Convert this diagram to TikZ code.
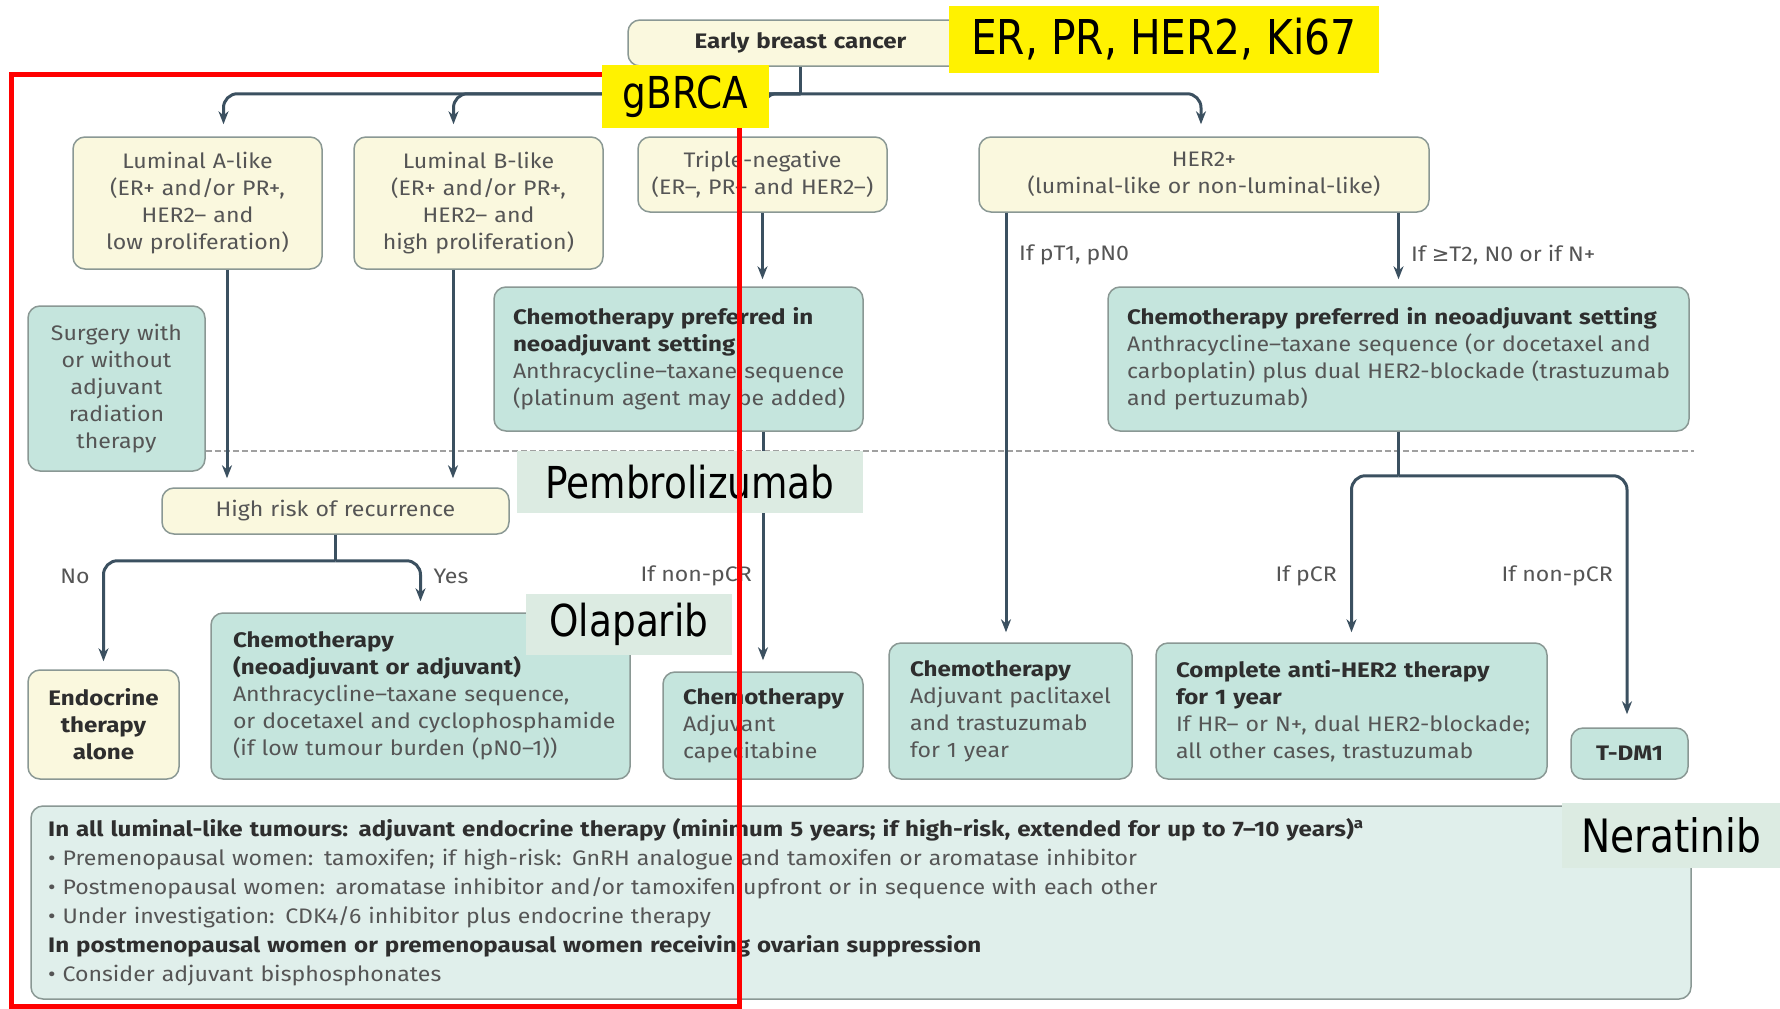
\documentclass[tikz,border=0pt]{standalone}
\usepackage{fontspec}
\setmainfont{Fira Sans}[FakeStretch=1.1, BoldFeatures={FakeStretch=1.15}]
\newfontfamily\lblfont{DejaVu Sans}[FakeStretch=0.85]
\newfontfamily\symfont{DejaVu Sans}
\usetikzlibrary{arrows.meta}
\definecolor{creamfill}{HTML}{FAF8DE}
\definecolor{tealfill}{HTML}{C5E5DD}
\definecolor{botfill}{HTML}{E0EFEB}
\definecolor{boxline}{HTML}{8A9894}
\definecolor{arrowc}{HTML}{3B5060}
\definecolor{textgray}{HTML}{555555}
\definecolor{titlec}{HTML}{2E2E2E}
\definecolor{ovl}{HTML}{DCEBE2}
\definecolor{dashc}{HTML}{A0A0A0}
\newcommand\bxfont{\fontsize{21}{27}\selectfont}
\newcommand\ttl[1]{{\bfseries\color{titlec}#1}}
\newcommand\ml[1]{\mbox{#1}}
\begin{document}
\begin{tikzpicture}[x=1pt,y=-1pt,
  box/.style={rounded corners=12pt, line width=1.5pt, draw=boxline, inner sep=0pt, font=\bxfont, text=textgray},
  cream/.style={box, fill=creamfill},
  teal/.style={box, fill=tealfill},
  lft/.style={align=left},
  ctr/.style={align=center},
  ln/.style={draw=arrowc, line width=3pt, rounded corners=14pt},
  arr/.style={ln, -{Stealth[length=13pt,width=10pt]}},
  lab/.style={font=\bxfont, text=textgray, inner sep=0pt},
  ovlab/.style={fill=ovl, inner sep=0pt, font=\lblfont\fontsize{44}{50}\selectfont, text=black},
  yel/.style={fill=yellow, inner sep=0pt, font=\lblfont\fontsize{44}{50}\selectfont, text=black}]
\useasboundingbox[fill=white] (0,0) rectangle (1780,1009);

% boxes
\node[cream, ctr, minimum width=345, minimum height=46, text width=320] (ebc) at (800.5,43) {\raisebox{-3pt}{\ttl{Early breast cancer}}};
\node[cream, ctr, minimum width=249, minimum height=132, text width=230] (lumA) at (197.5,203) {Luminal A-like\\(ER+ and/or PR+,\\HER2– and\\low proliferation)};
\node[cream, ctr, minimum width=249, minimum height=132, text width=230] (lumB) at (478.5,203) {Luminal B-like\\(ER+ and/or PR+,\\HER2– and\\high proliferation)};
\node[cream, ctr, minimum width=249, minimum height=75, text width=240] (tn) at (762.5,174.5) {Triple-negative\\\ml{(ER–, PR– and HER2–)}};
\node[cream, ctr, minimum width=450, minimum height=75, text width=420] (her2) at (1204,174.5) {HER2+\\(luminal-like or non-luminal-like)};
\node[teal, ctr, minimum width=177, minimum height=165, text width=160] (surg) at (116.5,388.5) {Surgery with\\or without\\adjuvant\\radiation\\therapy};
\node[teal, lft, minimum width=369, minimum height=144, text width=331] (tnchemo) at (678.5,359) {\ml{\ttl{Chemotherapy preferred in}}\\\ml{\ttl{neoadjuvant setting}}\\\ml{Anthracycline–taxane sequence}\\\ml{(platinum agent may be added)}};
\node[teal, lft, minimum width=581, minimum height=144, text width=543] (her2chemo) at (1398.5,359) {\ml{\ttl{Chemotherapy preferred in neoadjuvant setting}}\\\ml{Anthracycline–taxane sequence (or docetaxel and}\\\ml{carboplatin) plus dual HER2-blockade (trastuzumab}\\\ml{and pertuzumab)}};
\node[cream, ctr, minimum width=347, minimum height=46, text width=320] (hrisk) at (335.5,511) {High risk of recurrence};
\node[cream, ctr, minimum width=151, minimum height=109, text width=140] (endo) at (103.5,724.5) {\ttl{Endocrine}\\\ttl{therapy}\\\ttl{alone}};
\node[teal, lft, minimum width=419, minimum height=166, text width=375] (chemoA) at (420.5,696) {\ml{\ttl{Chemotherapy}}\\\ml{\ttl{(neoadjuvant or adjuvant)}}\\\ml{Anthracycline–taxane sequence,}\\\ml{or docetaxel and cyclophosphamide}\\\ml{(if low tumour burden (pN0–1))}};
\node[teal, lft, minimum width=200, minimum height=107, text width=160] (cape) at (763,725.5) {\ml{\ttl{Chemotherapy}}\\\ml{Adjuvant}\\\ml{capecitabine}};
\node[teal, lft, minimum width=243, minimum height=136, text width=201] (pacli) at (1010.5,711) {\ml{\ttl{Chemotherapy}}\\\ml{Adjuvant paclitaxel}\\\ml{and trastuzumab}\\\ml{for 1 year}};
\node[teal, lft, minimum width=391, minimum height=136, text width=351] (antiher2) at (1351.5,711) {\ml{\ttl{Complete anti-HER2 therapy}}\\\ml{\ttl{for 1 year}}\\\ml{If HR– or N+, dual HER2-blockade;}\\\ml{all other cases, trastuzumab}};
\node[teal, ctr, minimum width=117, minimum height=51, text width=100] (tdm1) at (1629.5,753.5) {\ttl{T-DM1}};
\node[box, fill=botfill, minimum width=1660, minimum height=193] (bottom) at (861,902.5) {};
\node[lab, anchor=north west, align=left, text width=1600, font=\fontsize{21}{29}\selectfont] (btext) at (48,818) {\ttl{In all luminal-like tumours: adjuvant endocrine therapy (minimum 5 years; if high-risk, extended for up to 7–10 years)\textsuperscript{a}}\\
• Premenopausal women: tamoxifen; if high-risk: GnRH analogue and tamoxifen or aromatase inhibitor\\
• Postmenopausal women: aromatase inhibitor and/or tamoxifen upfront or in sequence with each other\\
• Under investigation: CDK4/6 inhibitor plus endocrine therapy\\
\ttl{In postmenopausal women or premenopausal women receiving ovarian suppression}\\
• Consider adjuvant bisphosphonates};

% dashed separator
\draw[dashc, line width=2pt, dash pattern=on 6pt off 3pt] (surg.east |- 0,451) -- (1694,451);

% connectors
\coordinate (j1) at ([yshift=-27pt]ebc.south);
\draw[ln] (ebc.south) -- (j1);
\draw[arr] (j1) -| ([xshift=26pt,yshift=12pt]lumA.north);
\draw[arr] (j1) -| ([xshift=-25pt,yshift=12pt]lumB.north);
\draw[arr] (j1) -| ([yshift=12pt]tn.north);
\draw[arr] (j1) -| ([xshift=-3pt,yshift=12pt]her2.north);

\coordinate (la) at ([xshift=29.5pt]lumA.south);
\coordinate (lb) at ([xshift=-25.5pt]lumB.south);
\coordinate (hrt) at ([yshift=9pt]hrisk.north);
\draw[arr] (la) -- (la |- hrt);
\draw[arr] (lb) -- (lb |- hrt);

\coordinate (j2) at ([yshift=-26pt]hrisk.south);
\draw[ln] (hrisk.south) -- (j2);
\draw[arr] (j2) -| ([yshift=8pt]endo.north);
\draw[arr] (j2) -| ([yshift=11pt]chemoA.north);

\coordinate (tnc) at ([yshift=7pt]tnchemo.north);
\draw[arr] (tn.south) -- (tn.south |- tnc);
\draw[arr] (tnchemo.south -| cape.north) -- ([yshift=11pt]cape.north);

\coordinate (pt) at ([xshift=-4.5pt,yshift=10pt]pacli.north);
\draw[arr] (her2.south -| pt) -- (pt);
\coordinate (hc) at ([yshift=7pt]her2chemo.north);
\draw[arr] (her2.south -| hc) -- (hc);

\coordinate (j3) at ([yshift=-44pt]her2chemo.south);
\draw[ln] (her2chemo.south) -- (j3);
\draw[arr] (j3) -| ([yshift=10pt]antiher2.north);
\draw[arr] (j3) -| ([xshift=-2.5pt,yshift=13pt]tdm1.north);

% connector labels
\node[lab] (lno) at (75,576) {No};
\node[lab] (lyes) at (451,576) {Yes};
\node[lab, anchor=east] (lnp1) at (752,576) {If non-pCR};
\node[lab, anchor=west] (lpt1) at (1019,255) {If pT1, pN0};
\node[lab, anchor=west] (lt2) at (1411,255) {If {\symfont ≥}T2, N0 or if N+};
\node[lab, anchor=east] (lpcr) at (1337,576) {If pCR};
\node[lab, anchor=east] (lnp2) at (1613,576) {If non-pCR};

% overlay labels
\node[ovlab, minimum width=346, minimum height=62] (pembro) at (690,482) {Pembrolizumab};
\node[ovlab, minimum width=206, minimum height=61] (olap) at (629,624.5) {Olaparib};
\node[ovlab, minimum width=218, minimum height=65, font=\lblfont\fontsize{46}{50}\selectfont] (nera) at (1671,835.5) {Neratinib};

% red frame
\draw[red, line width=5pt] (11,74) rectangle (739,1006);

\node[yel, minimum width=167, minimum height=63] (gbrca) at (685.5,96.5) {gBRCA};
\node[yel, minimum width=430, minimum height=67, font=\lblfont\fontsize{48}{52}\selectfont] (er) at (1164,39.5) {ER, PR, HER2, Ki67};
\end{tikzpicture}
\end{document}
